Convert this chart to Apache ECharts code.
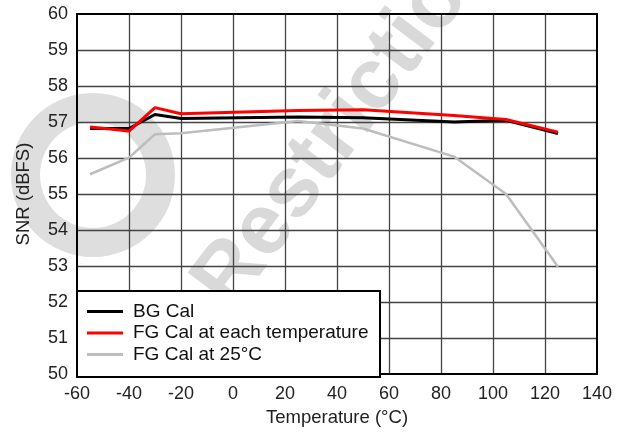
<!DOCTYPE html>
<html lang="en">
<head>
    <meta charset="UTF-8">
    <title>SNR vs Temperature</title>
    <script src="https://cdn.jsdelivr.net/npm/echarts@6/dist/echarts.min.js"></script>
</head>
<body style="margin:0; background:#fff;">
    <div id="chart-container" style="width: 628px; height: 432px;"></div>
    <script>
    // temperatures (°C) where each calibration was measured
    var temps = [-55, -40, -30, -20, 25, 50, 85, 105, 125];
    // SNR (dBFS) per series
    var bgCal = [56.82, 56.82, 57.21, 57.10, 57.14, 57.12, 57.00, 57.05, 56.68];
    var fgEach = [56.86, 56.75, 57.40, 57.23, 57.32, 57.34, 57.18, 57.07, 56.72];
    var fg25 = [55.55, 56.01, 56.66, 56.69, 57.03, 56.82, 56.04, 55.00, 52.98];
    var seriesNames = ['BG Cal', 'FG Cal at each temperature', 'FG Cal at 25°C'];
    var xTicks = { min: -60, max: 140, step: 20 };
    var yTicks = { min: 50, max: 60, step: 1 };

    function pairs(ys) {
        return temps.map(function (t, i) { return [t, ys[i]]; });
    }

    var chart = echarts.init(document.getElementById('chart-container'));
    var font = 'Liberation Sans, Arial, Helvetica, sans-serif';
    var tickStyle = { color: '#222', fontSize: 18, fontFamily: font };
    var titleStyle = { color: '#222', fontSize: 18.5, fontFamily: font };
    var gridLine = { show: true, showMinLine: false, showMaxLine: false, lineStyle: { color: '#444', width: 1.3 } };
    var frameLine = { onZero: false, lineStyle: { color: '#000', width: 2 } };

    var option = {
        animation: false,
        grid: { left: 77, right: 31, top: 14, bottom: 55 },
        // faint watermark behind the plot, and the white legend box
        graphic: [
            {
                type: 'text', z: -10, x: 362, y: 100, rotation: 53 * Math.PI / 180,
                style: { text: 'Restrictions', fill: '#d9d9d9', font: 'bold 86px ' + font, align: 'center', verticalAlign: 'middle' }
            },
            {
                type: 'ring', z: -10, shape: { cx: 93, cy: 175, r: 82, r0: 53 },
                style: { fill: '#dedede' }
            },
            {
                type: 'rect', z: 3, shape: { x: 77, y: 291, width: 303, height: 86 },
                style: { fill: '#fff', stroke: '#000', lineWidth: 2 }
            }
        ],
        legend: {
            z: 5,
            orient: 'vertical',
            left: 87, top: 302,
            padding: 0,
            itemGap: 2.5,
            itemWidth: 36, itemHeight: 3,
            icon: 'rect',
            textStyle: { color: '#111', fontSize: 19, fontFamily: font, lineHeight: 19, padding: [0, 0, 0, 5] },
            data: seriesNames
        },
        xAxis: [{
            type: 'value', min: xTicks.min, max: xTicks.max, interval: xTicks.step,
            name: 'Temperature (°C)', nameLocation: 'middle', nameGap: 30,
            nameTextStyle: titleStyle,
            axisLine: frameLine,
            axisTick: { show: false },
            axisLabel: Object.assign({ margin: 11 }, tickStyle),
            splitLine: gridLine
        }, {
            type: 'value', position: 'top', min: xTicks.min, max: xTicks.max, interval: xTicks.step, z: 1,
            axisLine: frameLine,
            axisTick: { show: false }, axisLabel: { show: false }, splitLine: { show: false }
        }],
        yAxis: [{
            type: 'value', min: yTicks.min, max: yTicks.max, interval: yTicks.step,
            name: 'SNR (dBFS)', nameLocation: 'middle', nameGap: 44,
            nameTextStyle: titleStyle,
            axisLine: Object.assign({ show: true }, frameLine),
            axisTick: { show: false },
            axisLabel: Object.assign({ margin: 9 }, tickStyle),
            splitLine: gridLine
        }, {
            type: 'value', position: 'right', min: yTicks.min, max: yTicks.max, interval: yTicks.step, z: 1,
            axisLine: Object.assign({ show: true }, frameLine),
            axisTick: { show: false }, axisLabel: { show: false }, splitLine: { show: false }
        }],
        series: [
            {
                name: seriesNames[2], type: 'line', data: pairs(fg25), symbol: 'none', z: 2,
                color: '#bdbdbd', lineStyle: { color: '#bdbdbd', width: 2.5 }
            },
            {
                name: seriesNames[0], type: 'line', data: pairs(bgCal), symbol: 'none', z: 2,
                color: '#000', lineStyle: { color: '#000', width: 3 }
            },
            {
                name: seriesNames[1], type: 'line', data: pairs(fgEach), symbol: 'none', z: 2,
                color: '#ff0000', lineStyle: { color: '#ff0000', width: 3 }
            }
        ]
    };

    chart.setOption(option);
    </script>
</body>
</html>
